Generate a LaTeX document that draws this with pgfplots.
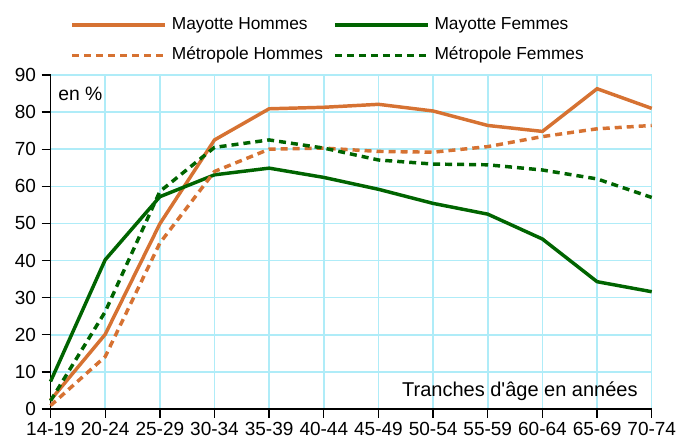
\documentclass[border=0pt]{standalone}
\usepackage{fontspec}
\setmainfont{Liberation Sans}[Ligatures=TeXOff]
\newcommand\legsize{\fontsize{13}{15.6}\selectfont}
\usepackage{pgfplots}
\pgfplotsset{compat=1.18}
\definecolor{cOr}{RGB}{214,114,50}
\definecolor{cGr}{RGB}{0,100,0}
\definecolor{cGrid}{RGB}{175,236,248}
\begin{document}
\begin{tikzpicture}
\begin{axis}[
  scale only axis,
  width=450.9pt, height=250.5pt,
  xmin=0, xmax=11, ymin=0, ymax=90,
  xtick={0,...,11},
  xticklabels={14-19,20-24,25-29,30-34,35-39,40-44,45-49,50-54,55-59,60-64,65-69,70-74},
  ytick={0,10,...,90},
  axis x line*=bottom, axis y line*=left,
  axis line style={black, line width=1.1pt},
  tick align=outside, major tick length=6.75pt,
  tick style={black, line width=1pt},
  grid=major,
  major grid style={cGrid, line width=1.1pt},
  tick label style={font=\fontsize{14.25}{17}\selectfont, inner sep=0pt},
  yticklabel style={anchor=east, xshift=-4pt},
  xticklabel style={anchor=north, yshift=-3pt},
  /pgf/number format/assume math mode=true,
  legend columns=2,
  legend cell align=left,
  legend style={draw=none, fill=none, at={(0.46,1.104)}, anchor=center,
    font=\legsize, inner sep=0pt,
    nodes={inner sep=0pt, font=\legsize, text height=9.4pt, text depth=2.8pt},
    row sep=10.4pt,
    /tikz/every odd column/.append style={column sep=3.75pt},
    /tikz/every even column/.append style={column sep=7.5pt}},
  legend image code/.code={\draw[#1] (0pt,0pt) -- (69.75pt,0pt);},
  clip=false,
]
\addplot[cOr, line width=2.6pt] coordinates {(0,2.4) (1,20.1) (2,49.9) (3,72.5) (4,80.9) (5,81.3) (6,82.1) (7,80.3) (8,76.4) (9,74.8) (10,86.3) (11,81.0)};
\addlegendentry{Mayotte Hommes}
\addplot[cGr, line width=2.6pt] coordinates {(0,7.4) (1,40.2) (2,57.2) (3,63.1) (4,64.9) (5,62.4) (6,59.2) (7,55.4) (8,52.5) (9,45.8) (10,34.3) (11,31.6)};
\addlegendentry{Mayotte Femmes}
\addplot[cOr, line width=2.6pt, dash pattern=on 5.25pt off 3.75pt] coordinates {(0,0.9) (1,14.1) (2,44.7) (3,64.0) (4,70.0) (5,70.3) (6,69.4) (7,69.2) (8,70.7) (9,73.4) (10,75.5) (11,76.4)};
\addlegendentry{Métropole Hommes}
\addplot[cGr, line width=2.6pt, dash pattern=on 5.25pt off 3.75pt] coordinates {(0,2.2) (1,26.2) (2,58.6) (3,70.5) (4,72.5) (5,70.3) (6,67.1) (7,66.0) (8,65.8) (9,64.4) (10,62.0) (11,57.0)};
\addlegendentry{Métropole Femmes}
\node[anchor=base west, inner sep=0pt, font=\fontsize{14.5}{17}\selectfont] at (rel axis cs:0.0125,0.925) {en \%};
\node[anchor=base east, inner sep=0pt, font=\fontsize{15}{18}\selectfont] at (rel axis cs:0.977,0.036) {Tranches d'âge en années};
\end{axis}
\pgfresetboundingbox
\path (current axis.south west) ++(-37.9pt,-25.5pt) coordinate (bbA);
\path (current axis.north east) ++(19.7pt,56.25pt) coordinate (bbB);
\path[use as bounding box] (bbA) rectangle (bbB);
\end{tikzpicture}
\end{document}
